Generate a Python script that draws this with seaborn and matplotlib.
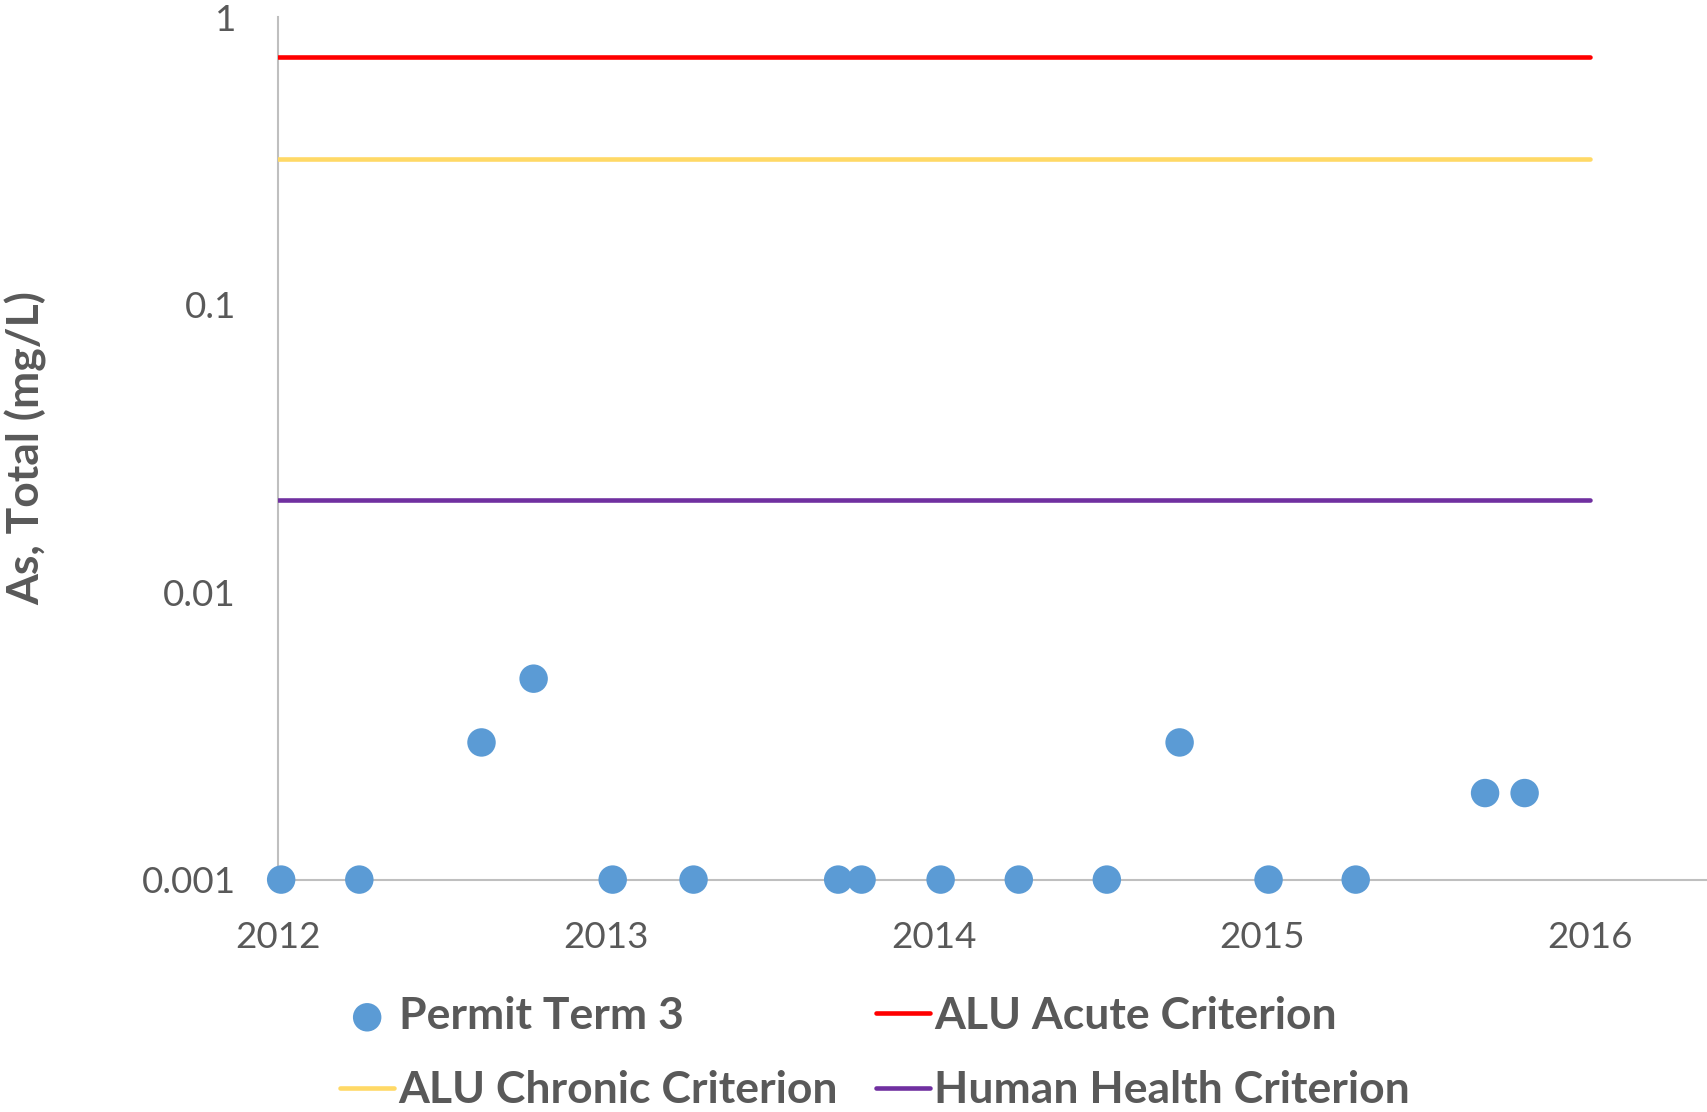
import matplotlib
matplotlib.use("Agg")
import matplotlib.pyplot as plt
import matplotlib.dates as mdates
import seaborn as sns
import pandas as pd

# ---- data ----
sample_dates = ["2012-01-05", "2012-04-01", "2012-08-15", "2012-10-12",
                "2013-01-08", "2013-04-08", "2013-09-16", "2013-10-12",
                "2014-01-08", "2014-04-05", "2014-07-12", "2014-10-01",
                "2015-01-08", "2015-04-15", "2015-09-06", "2015-10-20"]
arsenic_values = [0.001, 0.001, 0.003, 0.005,
                  0.001, 0.001, 0.001, 0.001,
                  0.001, 0.001, 0.001, 0.003,
                  0.001, 0.001, 0.002, 0.002]
criterion_dates = ["2012-01-01", "2016-01-01"]
acute_criterion = 0.73
chronic_criterion = 0.32
human_health_criterion = 0.021
year_ticks = ["2012-01-01", "2013-01-01", "2014-01-01", "2015-01-01", "2016-01-01"]
y_ticks = [0.001, 0.01, 0.1, 1]
y_tick_labels = ["0.001", "0.01", "0.1", "1"]

series_name = "Permit Term 3"
crit_names = ["ALU Acute Criterion", "ALU Chronic Criterion", "Human Health Criterion"]
crit_values = [acute_criterion, chronic_criterion, human_health_criterion]
crit_colors = ["#FF0000", "#FFD966", "#7030A0"]

# ---- style ----
sns.set_theme(style="white")
plt.rcParams["font.family"] = ["Lato", "DejaVu Sans"]
text_color = "#595959"
axis_color = "#BFBFBF"

fig = plt.figure(figsize=(17.07, 11.12), dpi=100)
ax = fig.add_axes([0.1626, 0.209, 0.8374, 0.7755])

pts = pd.DataFrame({"date": pd.to_datetime(sample_dates), "value": arsenic_values})

for name, val, col in zip(crit_names, crit_values, crit_colors):
    cdf = pd.DataFrame({"date": pd.to_datetime(criterion_dates), "value": [val] * len(criterion_dates)})
    sns.lineplot(data=cdf, x="date", y="value", ax=ax, color=col, linewidth=3.3,
                 label=name, zorder=3)

sns.scatterplot(data=pts, x="date", y="value", ax=ax, color="#5B9BD5", s=420,
                edgecolor="none", label=series_name, zorder=4, clip_on=False)

ax.set_yscale("log")
ax.set_ylim(0.001, 1)
ax.set_yticks(y_ticks)
ax.set_yticklabels(y_tick_labels)
ax.minorticks_off()
ax.set_xlim(pd.Timestamp("2012-01-01"), pd.Timestamp("2016-05-10"))
ax.set_xticks(pd.to_datetime(year_ticks))
ax.xaxis.set_major_formatter(mdates.DateFormatter("%Y"))

for s in ["top", "right"]:
    ax.spines[s].set_visible(False)
for s in ["left", "bottom"]:
    ax.spines[s].set_color(axis_color)
    ax.spines[s].set_linewidth(1.5)
    ax.spines[s].set_zorder(2)

ax.tick_params(axis="x", direction="inout", length=19, width=1.5, color=axis_color,
               labelsize=26.5, labelcolor=text_color, pad=20)
ax.tick_params(axis="y", length=0, labelsize=26.5, labelcolor=text_color, pad=30)
ax.grid(False)

ax.set_xlabel("")
ax.set_ylabel("As, Total (mg/L)", fontsize=32, fontweight="bold", color=text_color, va="center")
ax.yaxis.set_label_coords(-0.1760, 0.5)

handles, labels = ax.get_legend_handles_labels()
hmap = dict(zip(labels, handles))
order = [series_name, "ALU Chronic Criterion", "ALU Acute Criterion", "Human Health Criterion"]
if ax.get_legend():
    ax.get_legend().remove()
leg = fig.legend([hmap[k] for k in order], order, loc="center", bbox_to_anchor=(0.5126, 0.053),
                 ncol=2, frameon=False, prop={"family": ["Lato", "DejaVu Sans"], "weight": "bold", "size": 32},
                 handlelength=1.22, handletextpad=0.1, columnspacing=0.84, labelspacing=0.77,
                 borderpad=0, borderaxespad=0)
for t in leg.get_texts():
    t.set_color(text_color)

fig.savefig("out.png", dpi=100)
